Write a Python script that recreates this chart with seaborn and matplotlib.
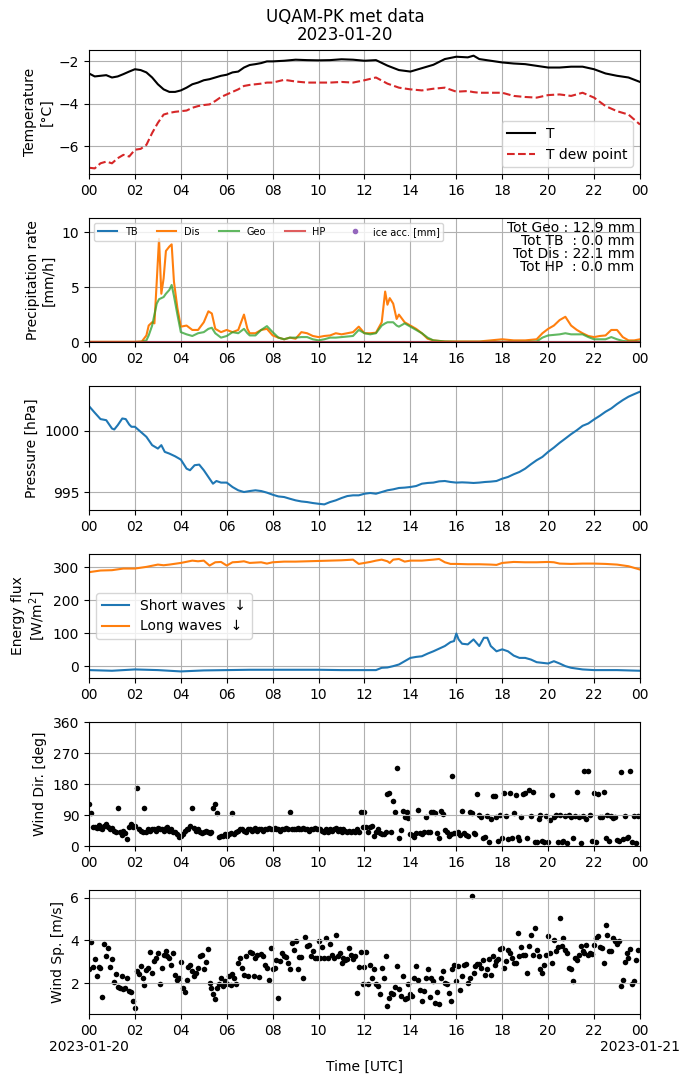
import numpy as np
import matplotlib
matplotlib.use("Agg")
import matplotlib.pyplot as plt
import seaborn as sns
from matplotlib.lines import Line2D

# ---------------- data ----------------
temp_hours = [0, 0.25, 0.5, 0.75, 1, 1.25, 1.5, 1.75, 2, 2.25, 2.5, 2.75, 3, 3.25, 3.5, 3.75,
              4, 4.25, 4.5, 4.75, 5, 5.25, 5.5, 5.75, 6, 6.25, 6.5, 6.75, 7, 7.25, 7.5, 7.75, 8,
              8.5, 9, 9.5, 10, 10.5, 11, 11.5, 12, 12.5, 13, 13.5, 14, 14.5, 15, 15.5, 16, 16.5,
              16.75, 17, 17.5, 18, 18.5, 19, 19.5, 20, 20.5, 21, 21.5, 22, 22.5, 23, 23.5, 24]
temp_T = [-2.57, -2.71, -2.68, -2.65, -2.76, -2.71, -2.6, -2.48, -2.37, -2.41,
          -2.52, -2.76, -3.08, -3.32, -3.44, -3.44, -3.37, -3.24, -3.08, -3.0,
          -2.89, -2.84, -2.76, -2.68, -2.63, -2.52, -2.48, -2.29, -2.17, -2.13,
          -2.08, -2.0, -2.0,
          -1.97, -1.92, -1.94, -1.95, -1.94, -1.9, -1.92, -1.97, -1.94, -2.2, -2.41, -2.48,
          -2.32, -2.16, -1.89, -1.78, -1.81,
          -1.73,
          -1.89, -1.97, -2.05, -2.1, -2.13, -2.21, -2.29, -2.29, -2.25, -2.25, -2.37, -2.57,
          -2.68, -2.76, -2.97]
temp_Td = [-7.02, -7.05, -6.81, -6.73, -6.81, -6.57, -6.41, -6.49, -6.17, -6.13,
           -5.94, -5.38, -4.9, -4.51, -4.43, -4.38, -4.35, -4.32, -4.19, -4.11,
           -4.06, -4.03, -3.87, -3.68, -3.56, -3.44, -3.32, -3.16, -3.11, -3.08,
           -3.05, -3.0, -3.0,
           -2.87, -2.95, -3.0, -3.0, -3.0, -2.97, -3.0, -2.89, -2.76, -3.05, -3.24, -3.32,
           -3.37, -3.29, -3.24, -3.43, -3.4,
           -3.45,
           -3.48, -3.48, -3.48, -3.63, -3.68, -3.71, -3.59, -3.56, -3.63, -3.48, -3.71, -4.11,
           -4.35, -4.51, -4.98]

prec_hours = [0, 1, 2, 2.3, 2.5, 2.6, 2.75, 2.85, 2.95, 3.05,
              3.15, 3.25, 3.35, 3.5, 3.6, 3.7, 3.85, 4, 4.25, 4.5,
              4.75, 5, 5.2, 5.35, 5.5, 5.75, 6, 6.25, 6.5, 6.75,
              6.9, 7, 7.25, 7.5, 7.75, 8, 8.25, 8.5, 8.75, 9,
              9.25, 9.5, 9.75, 10, 10.25, 10.5, 10.75, 11, 11.25, 11.5,
              11.75, 12, 12.25, 12.5, 12.75, 12.9, 13.0, 13.1, 13.25, 13.4,
              13.5, 13.75, 14, 14.25, 14.5, 14.75, 15, 15.5, 16, 17,
              18, 18.5, 19, 19.5, 19.75, 20, 20.25, 20.5, 20.75, 21,
              21.25, 21.5, 21.75, 22, 22.25, 22.5, 22.75, 23, 23.25, 23.5,
              23.75, 24]
prec_dis = [0.02, 0.02, 0.02, 0.05, 0.6, 1.5, 1.8, 1.7, 5.5, 9.4,
            4.4, 5.8, 8.3, 8.7, 8.9, 5.5, 3.1, 1.4, 1.5, 1.1,
            1.1, 1.8, 2.8, 2.6, 1.2, 0.9, 1.1, 0.9, 1.1, 2.5,
            1.2, 0.8, 0.8, 1.1, 1.2, 0.6, 0.4, 0.25, 0.4, 0.3,
            0.9, 0.8, 0.55, 0.45, 0.55, 0.6, 0.8, 0.7, 0.8, 0.9,
            1.4, 0.8, 0.8, 0.85, 1.8, 4.6, 3.4, 4.0, 3.5, 2.1,
            2.5, 1.8, 1.5, 1.2, 0.8, 0.3, 0.15, 0.05, 0.05, 0.05,
            0.25, 0.15, 0.15, 0.25, 0.8, 1.2, 1.5, 2.0, 2.3, 1.5,
            1.1, 0.8, 0.55, 0.45, 0.55, 0.6, 1.1, 1.1, 0.45, 0.15,
            0.15, 0.25]
prec_geo = [0.0, 0.0, 0.0, 0.02, 0.15, 0.6, 1.5, 2.5, 3.5, 3.9,
            4.0, 4.1, 4.4, 4.75, 5.2, 4.2, 2.5, 0.9, 0.7, 0.55,
            0.8, 0.9, 1.2, 1.3, 0.8, 0.4, 0.55, 0.9, 0.8, 1.2,
            0.8, 0.6, 0.6, 1.1, 1.45, 0.9, 0.4, 0.25, 0.4, 0.4,
            0.45, 0.45, 0.25, 0.15, 0.25, 0.4, 0.4, 0.45, 0.5, 0.55,
            1.1, 0.8, 0.7, 0.8, 1.5, 1.7, 1.8, 1.8, 1.8, 1.5,
            1.4, 1.7, 1.4, 1.1, 0.8, 0.4, 0.15, 0.05, 0.02, 0.02,
            0.02, 0.02, 0.02, 0.05, 0.4, 0.6, 0.65, 0.7, 0.8, 0.7,
            0.7, 0.7, 0.45, 0.25, 0.25, 0.25, 0.45, 0.25, 0.1, 0.05,
            0.05, 0.05]
tb_hours = [0, 24]
tb_rate = [0.0, 0.0]
hp_hours = [0, 24]
hp_rate = [0.0, 0.0]
totals_text = "Tot Geo : 12.9 mm\nTot TB  : 0.0 mm\nTot Dis : 22.1 mm\nTot HP  : 0.0 mm"

pres_hours = [0, 0.25, 0.5, 0.75, 1.0, 1.1, 1.25, 1.45, 1.6, 1.75,
              1.85, 2.0, 2.25, 2.5, 2.75, 3.0, 3.15, 3.3, 3.5, 3.75,
              4.0, 4.25, 4.4, 4.6, 4.8, 5.0, 5.25, 5.4, 5.55, 5.75, 6.0,
              6.25, 6.5, 6.75, 7, 7.25, 7.5, 7.75, 8, 8.25, 8.5,
              8.75, 9, 9.25, 9.5, 9.75, 10, 10.25, 10.5, 10.75, 11,
              11.25, 11.5, 11.75, 12, 12.25, 12.5, 12.75, 13, 13.25, 13.5,
              13.75, 14, 14.25, 14.5, 14.75, 15, 15.25, 15.5, 15.75, 16,
              16.25, 16.5, 16.75, 17, 17.25, 17.5, 17.75, 18, 18.25, 18.5,
              18.75, 19, 19.25, 19.5, 19.75, 20, 20.25, 20.5, 20.75, 21,
              21.25, 21.5, 21.75, 22, 22.25, 22.5, 22.75, 23, 23.25, 23.5,
              23.75, 24]
pres_hpa = [1002.02, 1001.48, 1000.96, 1000.87, 1000.19, 1000.11, 1000.46, 1001.01, 1000.96, 1000.52,
            1000.33, 1000.33, 999.92, 999.51, 998.83, 998.55, 998.83, 998.28, 998.14, 997.92,
            997.65, 996.91, 996.78, 997.19, 997.24, 996.78, 996.09, 995.68, 995.9, 995.77, 995.77,
            995.41, 995.14, 995.0, 995.08, 995.14, 995.08, 994.95, 994.78, 994.64, 994.59,
            994.45, 994.32, 994.23, 994.18, 994.1, 994.04, 993.99, 994.18, 994.32, 994.51,
            994.67, 994.73, 994.73, 994.86, 994.92, 994.86, 995.0, 995.14, 995.22, 995.33,
            995.36, 995.41, 995.49, 995.68, 995.74, 995.77, 995.87, 995.9, 995.82, 995.77,
            995.79, 995.77, 995.74, 995.77, 995.82, 995.85, 995.9, 996.09, 996.23, 996.45,
            996.64, 996.91, 997.27, 997.6, 997.87, 998.28, 998.63, 999.02, 999.37, 999.73,
            1000.05, 1000.41, 1000.6, 1000.93, 1001.23, 1001.56, 1001.83, 1002.19, 1002.51, 1002.79,
            1003.0, 1003.2]

lw_hours = [0, 0.5, 1, 1.5, 2, 2.5, 3, 3.25, 3.5, 4,
            4.5, 4.75, 5, 5.25, 5.5, 5.75, 6, 6.25, 6.5, 6.75,
            7, 7.5, 7.75, 8, 8.5, 9, 9.5, 10, 10.5, 11,
            11.5, 11.75, 12, 12.25, 12.5, 12.75, 13, 13.1, 13.25, 13.5,
            13.75, 14, 14.5, 15, 15.25, 15.5, 15.75, 16, 16.5, 17,
            17.5, 17.75, 18, 18.5, 19, 19.5, 20, 20.25, 20.5, 21,
            21.5, 22, 22.5, 23, 23.5, 24]
lw_flux = [285, 290, 291, 296, 296, 301, 308, 306, 308, 313,
           320, 318, 320, 305, 315, 316, 305, 315, 316, 318,
           313, 315, 311, 315, 317, 317, 318, 319, 320, 321,
           323, 310, 313, 316, 320, 323, 318, 313, 323, 325,
           317, 320, 320, 323, 325, 315, 310, 310, 309, 309,
           308, 307, 313, 316, 315, 315, 316, 315, 311, 310,
           311, 311, 310, 308, 303, 293]
sw_hours = [0, 1, 2, 3, 4, 5, 6, 7, 8, 9, 10, 11, 12,
            12.5, 12.75, 13, 13.25, 13.5, 13.75, 14, 14.25, 14.5, 14.75,
            15, 15.25, 15.5, 15.75, 15.9, 16, 16.1, 16.25, 16.5, 16.75,
            16.9, 17, 17.2, 17.35, 17.5, 17.75, 18, 18.25, 18.5, 18.75,
            19, 19.25, 19.5, 19.75, 20, 20.25, 20.5, 20.75, 21, 21.5,
            22, 23, 24]
sw_flux = [-12, -14, -10, -12, -16, -13, -12, -11, -11, -11, -11, -12, -12,
           -12, -5, -4, 0, 5, 15, 25, 28, 30, 38,
           45, 53, 61, 73, 76, 99, 81, 68, 66, 81,
           69, 61, 86, 86, 61, 45, 51, 45, 32, 25,
           25, 20, 12, 10, 8, 15, 8, 0, -5, -10,
           -12, -12, -14]

# wind, 5-minute samples (12 per hour)
wind_dir = [
    123, 95, 54, 56, 52, 61, 52, 48, 58, 64, 55, 50,
    52, 45, 40, 110, 42, 32, 45, 38, 20, 55, 65, 55,
    58, 168, 48, 45, 40, 110, 42, 48, 45, 50, 48, 45,
    52, 48, 50, 45, 52, 55, 45, 50, 40, 42, 35, 27,
    30, 35, 45, 50, 48, 58, 110, 52, 45, 48, 40, 38,
    40, 45, 42, 38, 40, 110, 123, 95, 25, 30, 28, 35,
    30, 35, 38, 95, 35, 40, 45, 48, 50, 45, 42, 48,
    50, 45, 48, 52, 45, 48, 50, 45, 48, 50, 52, 48,
    50, 52, 48, 50, 45, 48, 50, 52, 50, 100, 50, 48,
    50, 52, 48, 50, 52, 48, 50, 45, 50, 48, 52, 50,
    48, 50, 45, 40, 48, 42, 50, 45, 48, 52, 45, 48,
    42, 48, 45, 40, 45, 42, 45, 40, 48, 42, 100, 55,
    100, 54, 42, 54, 58, 29, 42, 49, 37, 35, 35, 40,
    152, 154, 42, 131, 100, 227, 22, 47, 103, 84, 100, 80,
    35, 32, 25, 37, 105, 37, 35, 42, 84, 40, 42, 100,
    100, 97, 39, 22, 103, 93, 47, 40, 28, 35, 204, 37,
    37, 42, 32, 103, 37, 32, 29, 100, 95, 38, 35, 152,
    90, 84, 22, 27, 86, 13, 78, 146, 146, 84, 15, 90,
    22, 154, 86, 19, 154, 22, 95, 149, 27, 18, 84, 150,
    154, 22, 163, 86, 156, 13, 13, 78, 90, 15, 13, 88,
    13, 76, 149, 84, 90, 13, 90, 13, 15, 86, 10, 90,
    84, 22, 86, 156, 84, 8, 86, 217, 78, 217, 90, 15,
    154, 13, 152, 84, 83, 156, 22, 90, 15, 86, 81, 85,
    18, 16, 215, 19, 86, 22, 27, 217, 13, 86, 10, 86,
]
wind_speed = [
    2.68, 3.92, 2.74, 3.12, 2.33, 2.76, 2.71, 1.35, 3.83, 3.26, 3.64, 2.74,
    3.13, 2.06, 2.43, 1.83, 1.78, 2.33, 1.71, 1.75, 2.25, 1.63, 1.57, 1.16,
    0.82, 2.56, 2.43, 2.79, 2.22, 1.91, 2.6, 2.71, 3.46, 2.48, 3.02, 3.18,
    3.41, 1.94, 2.71, 3.33, 3.52, 3.26, 3.18, 2.87, 3.41, 2.4, 2.17, 2.25,
    2.99, 1.78, 1.6, 2.17, 2.74, 2.87, 2.59, 2.33, 2.48, 2.71, 3.26, 3.33,
    2.64, 2.99, 3.61, 2.02, 1.78, 1.47, 1.24, 1.78, 1.94, 2.22, 1.86, 2.09,
    1.94, 2.33, 1.91, 2.43, 2.25, 1.94, 2.95, 3.18, 2.71, 2.4, 3.26, 2.33,
    3.46, 3.41, 2.33, 3.18, 3.33, 2.28, 3.36, 3.26, 2.87, 2.71, 2.17, 3.64,
    2.64, 2.71, 3.1, 1.32, 3.02, 3.41, 3.26, 3.21, 2.95, 2.64, 3.88, 3.57,
    3.95, 2.64, 3.21, 3.21, 2.25, 4.14, 3.72, 3.8, 3.26, 3.49, 3.18, 3.18,
    3.95, 3.18, 3.67, 3.18, 4.11, 3.18, 3.83, 3.33, 3.18, 4.26, 3.26, 3.41,
    2.95, 3.18, 3.1, 3.15, 3.64, 3.33, 3.15, 3.26, 1.55, 2.74, 3.46, 1.97,
    2.76, 3.46, 1.94, 2.84, 2.22, 2.64, 1.97, 1.86, 1.5, 2.71, 2.25, 3.26,
    0.93, 1.32, 1.55, 1.47, 1.81, 2.79, 1.71, 1.4, 2.33, 1.24, 1.32, 1.94,
    1.47, 1.4, 2.25, 2.82, 2.17, 1.66, 1.16, 1.63, 2.22, 2.68, 1.35, 2.25,
    2.09, 1.09, 1.6, 1.04, 2.25, 2.59, 2.02, 1.94, 1.55, 1.16, 2.64, 2.84,
    2.09, 2.79, 1.66, 2.33, 2.84, 2.9, 2.02, 2.25, 6.09, 2.48, 2.79, 2.9,
    2.9, 2.71, 3.1, 2.4, 2.64, 3.15, 2.4, 3.26, 2.87, 3.05, 3.15, 3.61,
    3.64, 2.71, 3.05, 3.57, 3.41, 3.18, 2.95, 2.95, 4.34, 3.26, 3.67, 3.33,
    3.33, 2.48, 3.72, 4.26, 3.33, 4.57, 3.57, 3.26, 2.68, 2.48, 2.87, 3.33,
    4.19, 3.41, 2.95, 4.03, 3.49, 3.67, 5.04, 3.72, 4.11, 3.57, 3.41, 2.71,
    2.64, 2.09, 3.18, 3.1, 3.33, 3.72, 3.49, 3.41, 3.77, 3.33, 3.41, 3.36,
    3.77, 4.11, 4.19, 3.67, 3.64, 2.95, 4.73, 4.26, 3.49, 3.49, 4.11, 3.95,
    3.83, 3.95, 1.86, 2.17, 2.99, 3.41, 3.18, 3.61, 1.94, 2.09, 3.1, 3.57,
]
wind_hours = np.arange(len(wind_speed)) * 5 / 60.0

hour_ticks = list(range(0, 25, 2))
hour_labels = ["%02d" % (h % 24) for h in hour_ticks]
bottom_labels = list(hour_labels)
bottom_labels[0] = "00\n2023-01-20"
bottom_labels[-1] = "00\n2023-01-21"

# ---------------- figure ----------------
fig, axes = plt.subplots(6, 1, figsize=(6.9, 10.83), dpi=100)
fig.subplots_adjust(left=0.129, right=0.9275, top=0.9538, bottom=0.0637, hspace=0.355)
fig.suptitle("UQAM-PK met data\n2023-01-20", fontsize=12, y=0.993, linespacing=1.0)

# 1 temperature
ax = axes[0]
sns.lineplot(x=temp_hours, y=temp_T, ax=ax, color="k", label="T")
sns.lineplot(x=temp_hours, y=temp_Td, ax=ax, color="tab:red", linestyle="--", label="T dew point")
ax.legend(loc="lower right", fontsize=10)
ax.set_yticks([-6, -4, -2])
ax.set_ylabel("Temperature\n[°C]")

# 2 precipitation
ax = axes[1]
sns.lineplot(x=tb_hours, y=tb_rate, ax=ax, color="tab:blue", label="TB")
sns.lineplot(x=prec_hours, y=prec_dis, ax=ax, color="tab:orange", label="Dis")
sns.lineplot(x=prec_hours, y=prec_geo, ax=ax, color="tab:green", alpha=0.75, label="Geo")
sns.lineplot(x=hp_hours, y=hp_rate, ax=ax, color="tab:red", alpha=0.75, label="HP")
handles, labels = ax.get_legend_handles_labels()
handles.append(Line2D([], [], marker="o", linestyle="none", color="tab:purple", markersize=3))
labels.append("ice acc. [mm]")
ax.legend(handles, labels, loc="upper left", ncol=5, fontsize=7)
ax.text(0.99, 0.975, totals_text, transform=ax.transAxes, ha="right", va="top",
        fontsize=10, linespacing=0.9)
ax.set_ylim(0, 11.3)
ax.set_yticks([0, 5, 10])
ax.set_ylabel("Precipitation rate\n[mm/h]")

# 3 pressure
ax = axes[2]
sns.lineplot(x=pres_hours, y=pres_hpa, ax=ax, color="tab:blue")
ax.set_yticks([995, 1000])
ax.set_ylabel("Pressure [hPa]")

# 4 energy flux
ax = axes[3]
sns.lineplot(x=sw_hours, y=sw_flux, ax=ax, color="tab:blue", label="Short waves  ↓")
sns.lineplot(x=lw_hours, y=lw_flux, ax=ax, color="tab:orange", label="Long waves  ↓")
ax.legend(loc="center left", fontsize=10)
ax.set_ylim(-36, 340)
ax.set_yticks([0, 100, 200, 300])
ax.set_ylabel("Energy flux\n[W/m$^2$]")

# 5 wind direction
ax = axes[4]
sns.scatterplot(x=wind_hours, y=wind_dir, ax=ax, color="k", s=16, linewidth=0)
ax.set_ylim(0, 360)
ax.set_yticks([0, 90, 180, 270, 360])
ax.set_ylabel("Wind Dir. [deg]")

# 6 wind speed
ax = axes[5]
sns.scatterplot(x=wind_hours, y=wind_speed, ax=ax, color="k", s=16, linewidth=0)
ax.set_yticks([2, 4, 6])
ax.set_ylabel("Wind Sp. [m/s]")
ax.set_xlabel("Time [UTC]")

for i, ax in enumerate(axes):
    ax.set_xlim(0, 24)
    ax.set_xticks(hour_ticks)
    ax.set_xticklabels(bottom_labels if i == 5 else hour_labels)
    ax.grid(True)
    ax.set_axisbelow(False) if False else None

fig.savefig("out.png", dpi=100)
